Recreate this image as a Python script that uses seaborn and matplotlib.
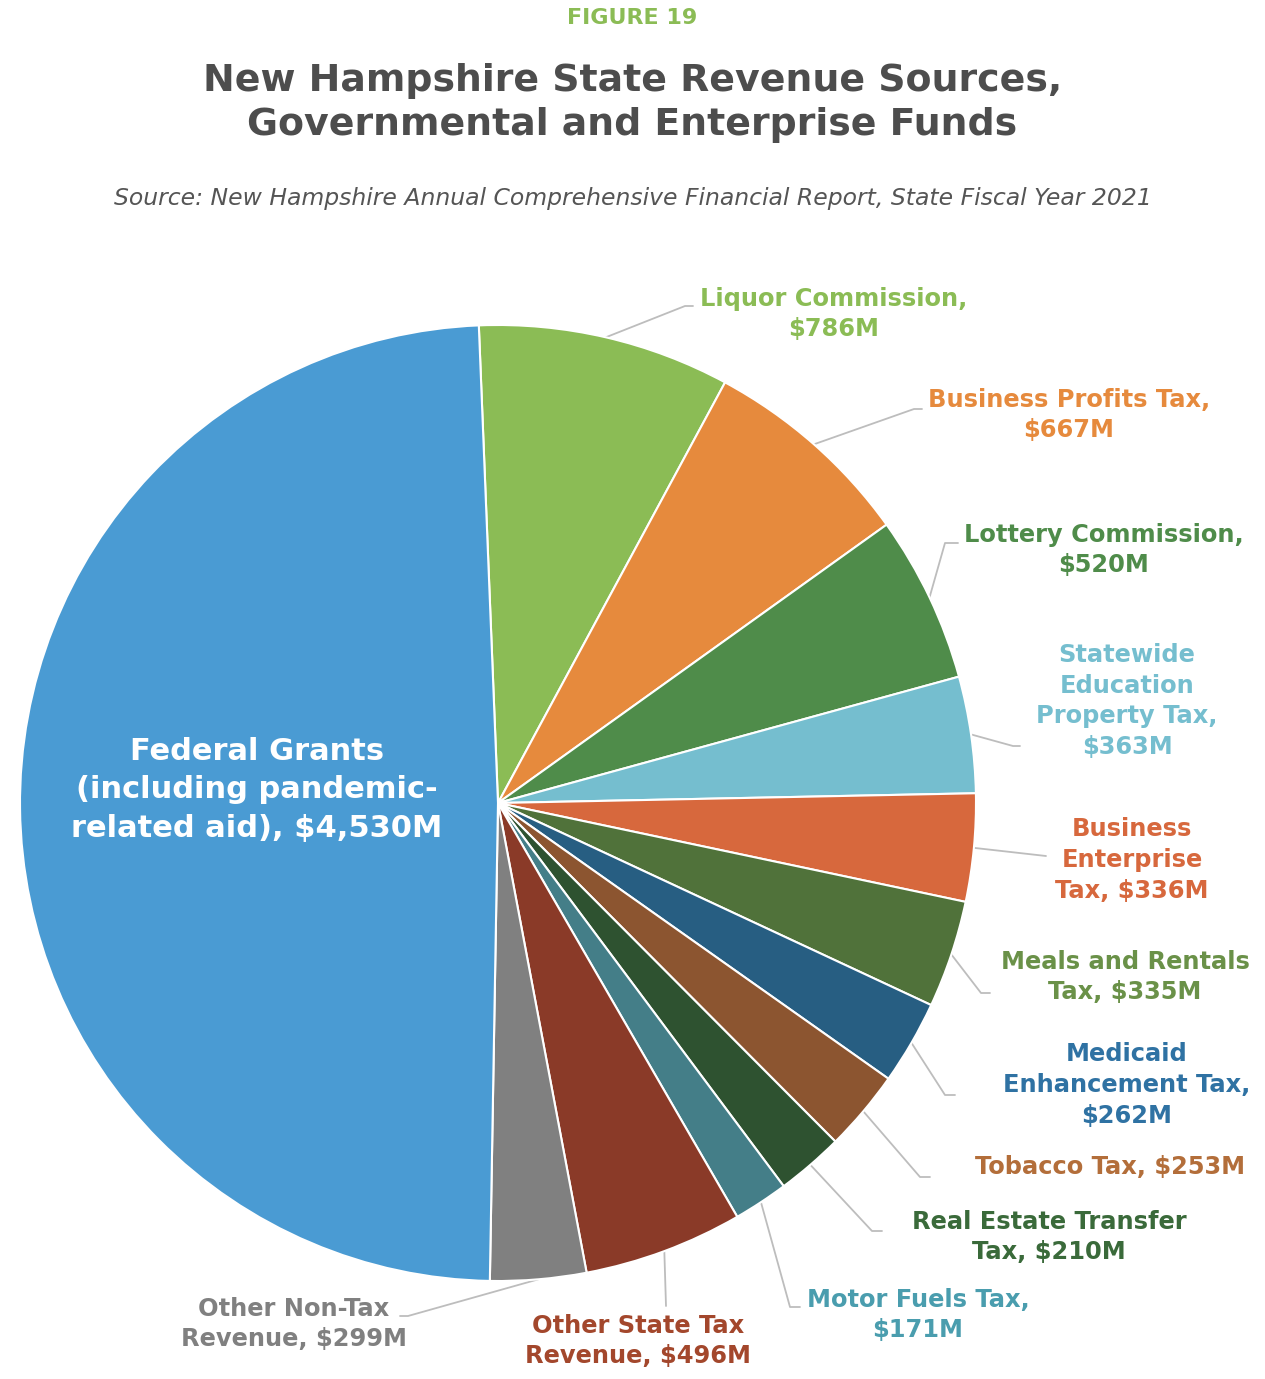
import numpy as np
import matplotlib.pyplot as plt
import seaborn as sns

sns.set_theme(style="white")
plt.rcParams['font.family'] = ['DejaVu Sans']

# Data (clockwise from the top)
labels = ['Liquor Commission,\n$786M', 'Business Profits Tax,\n$667M', 'Lottery Commission,\n$520M',
          'Statewide\nEducation\nProperty Tax,\n$363M', 'Business\nEnterprise\nTax, $336M',
          'Meals and Rentals\nTax, $335M', 'Medicaid\nEnhancement Tax,\n$262M', 'Tobacco Tax, $253M',
          'Real Estate Transfer\nTax, $210M', 'Motor Fuels Tax,\n$171M', 'Other State Tax\nRevenue, $496M',
          'Other Non-Tax\nRevenue, $299M', 'Federal Grants\n(including pandemic-\nrelated aid), $4,530M']
values = [786, 667, 520, 363, 336, 335, 262, 253, 210, 171, 496, 299, 4530]
colors = ['#8BBC55', '#E68A3D', '#4F8C4A', '#75BECF', '#D7683D', '#50723A', '#275E82',
          '#8C5530', '#2E5230', '#447E88', '#8A3A28', '#808080', '#4A9BD3']
text_colors = ['#8BBC55', '#E68A3D', '#4F8C4A', '#75BECF', '#D7683D', '#6A9148', '#2F72A3',
               '#B36E3A', '#3A6A3A', '#4A9DAE', '#A3472C', '#808080', 'white']

W, H = 1265, 1379
fig = plt.figure(figsize=(W / 100, H / 100), dpi=100)
ax = fig.add_axes([0, 0, 1, 1])

def Y(y):
    return H - y

cx, cy, R = 498, Y(803), 478
wedges, _ = ax.pie(values, colors=colors, startangle=92.3, counterclock=False,
                   center=(cx, cy), radius=R, frame=True,
                   wedgeprops=dict(edgecolor='white', linewidth=1.5))
ax.set_xlim(0, W)
ax.set_ylim(0, H)
ax.axis('off')

# label placement (pixel coords from top): text center, elbow, line end
label_pos = [(834, 314), (1069, 415), (1104, 550), (1127, 701), (1132, 860), (1125, 977),
             (1127, 1085), (1110, 1167), (1049, 1237), (918, 1315), (638, 1341), (294, 1324)]
elbows = [(685, 306), (914, 409), (945, 543), (1013, 746), (1046, 856), (981, 993),
          (945, 1095), (920, 1177), (872, 1231), (790, 1307), (666, 1306), (408, 1316)]
ends = [(693, 306), (922, 409), (958, 543), (1020, 746), (1046, 856), (990, 993),
        (955, 1095), (930, 1177), (882, 1231), (800, 1307), (666, 1306), (400, 1316)]

for i, w in enumerate(wedges[:-1]):
    mid = np.deg2rad((w.theta1 + w.theta2) / 2)
    sx, sy = cx + R * np.cos(mid), cy + R * np.sin(mid)
    ex, ey = elbows[i]
    fx, fy = ends[i]
    ax.plot([sx, ex, fx], [sy, Y(ey), Y(fy)], color='#BDBDBD', lw=1.3, zorder=0)
    tx, ty = label_pos[i]
    ax.text(tx, Y(ty), labels[i], color=text_colors[i], ha='center', va='center',
            fontsize=17.4, fontweight='bold', linespacing=1.35)

ax.text(257, Y(790), labels[-1], color='white', ha='center', va='center',
        fontsize=22, fontweight='bold', linespacing=1.42)

# titles
fig.text(0.5, Y(18) / H, 'FIGURE 19', color='#8BBC55', ha='center', va='center',
         fontsize=16, fontweight='bold')
fig.text(0.5, Y(103) / H, 'New Hampshire State Revenue Sources,\nGovernmental and Enterprise Funds',
         color='#4D4D4D', ha='center', va='center', fontsize=27.3, fontweight='bold', linespacing=1.3)
fig.text(0.5, Y(198) / H,
         'Source: New Hampshire Annual Comprehensive Financial Report, State Fiscal Year 2021',
         color='#555555', ha='center', va='center', fontsize=16.9, style='italic')

fig.savefig('out.png', dpi=100, facecolor='white')
